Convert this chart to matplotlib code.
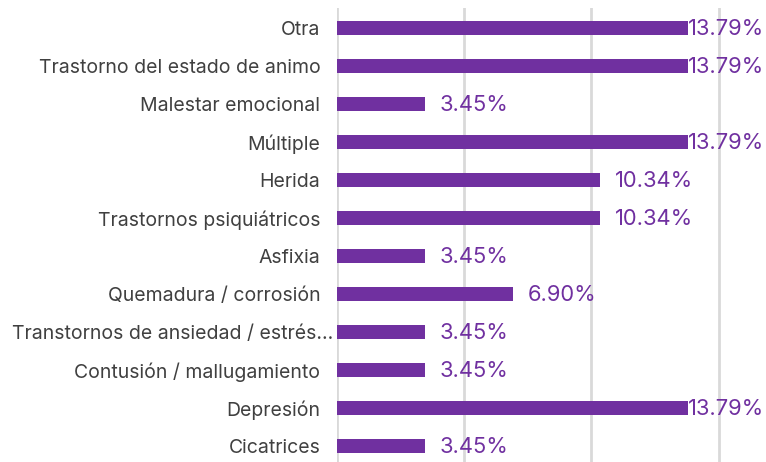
import matplotlib
matplotlib.use("Agg")
import matplotlib.pyplot as plt

categories = [
    "Otra",
    "Trastorno del estado de animo",
    "Malestar emocional",
    "Múltiple",
    "Herida",
    "Trastornos psiquiátricos",
    "Asfixia",
    "Quemadura / corrosión",
    "Transtornos de ansiedad / estrés...",
    "Contusión / mallugamiento",
    "Depresión",
    "Cicatrices",
]
values = [13.79, 13.79, 3.45, 13.79, 10.34, 10.34, 3.45, 6.90, 3.45, 3.45, 13.79, 3.45]
value_labels = ["13.79%", "13.79%", "3.45%", "13.79%", "10.34%", "10.34%",
                "3.45%", "6.90%", "3.45%", "3.45%", "13.79%", "3.45%"]

purple = "#7030a0"
text_gray = "#404040"
plt.rcParams["font.family"] = ["Inter", "DejaVu Sans"]

fig = plt.figure(figsize=(7.66, 4.62), dpi=100)
ax = fig.add_axes([337 / 766, 0.0, 1 - 337 / 766, (462 - 8) / 462])

y = list(range(len(categories)))
ax.barh(y, values, height=0.37, color=purple, zorder=3)

xmax = 16.86
ax.set_xlim(0, xmax)
ax.set_ylim(11.42, -0.526)
ax.set_xticks([0, 5, 10, 15])
ax.xaxis.grid(True, color="#d9d9d9", linewidth=2, zorder=0)
ax.tick_params(axis="x", length=0, labelbottom=False)
ax.tick_params(axis="y", length=0, pad=12, labelsize=14, labelcolor=text_gray)
ax.set_yticks(y)

# truncated labels (ending in "...") sit closer to the axis
tick_texts = []
for i, c in enumerate(categories):
    if c.endswith("..."):
        tick_texts.append("")
        ax.annotate(c, xy=(0, i), xycoords=("axes fraction", "data"),
                    xytext=(-3, 0), textcoords="offset points",
                    ha="right", va="center_baseline", fontsize=14,
                    color=text_gray, annotation_clip=False)
    else:
        tick_texts.append(c)
ax.set_yticklabels(tick_texts)
for s in ax.spines.values():
    s.set_visible(False)

# value labels: offset from the bar end, but kept inside the figure
for yi, v, lab in zip(y, values, value_labels):
    dx = 0 if v + 0.6 + 3.0 > xmax else 11
    ax.annotate(lab, (v, yi), xytext=(dx, -1), textcoords="offset points",
                va="center", ha="left", color=purple, fontsize=15.8,
                annotation_clip=False)

fig.savefig("out.png", dpi=100)
